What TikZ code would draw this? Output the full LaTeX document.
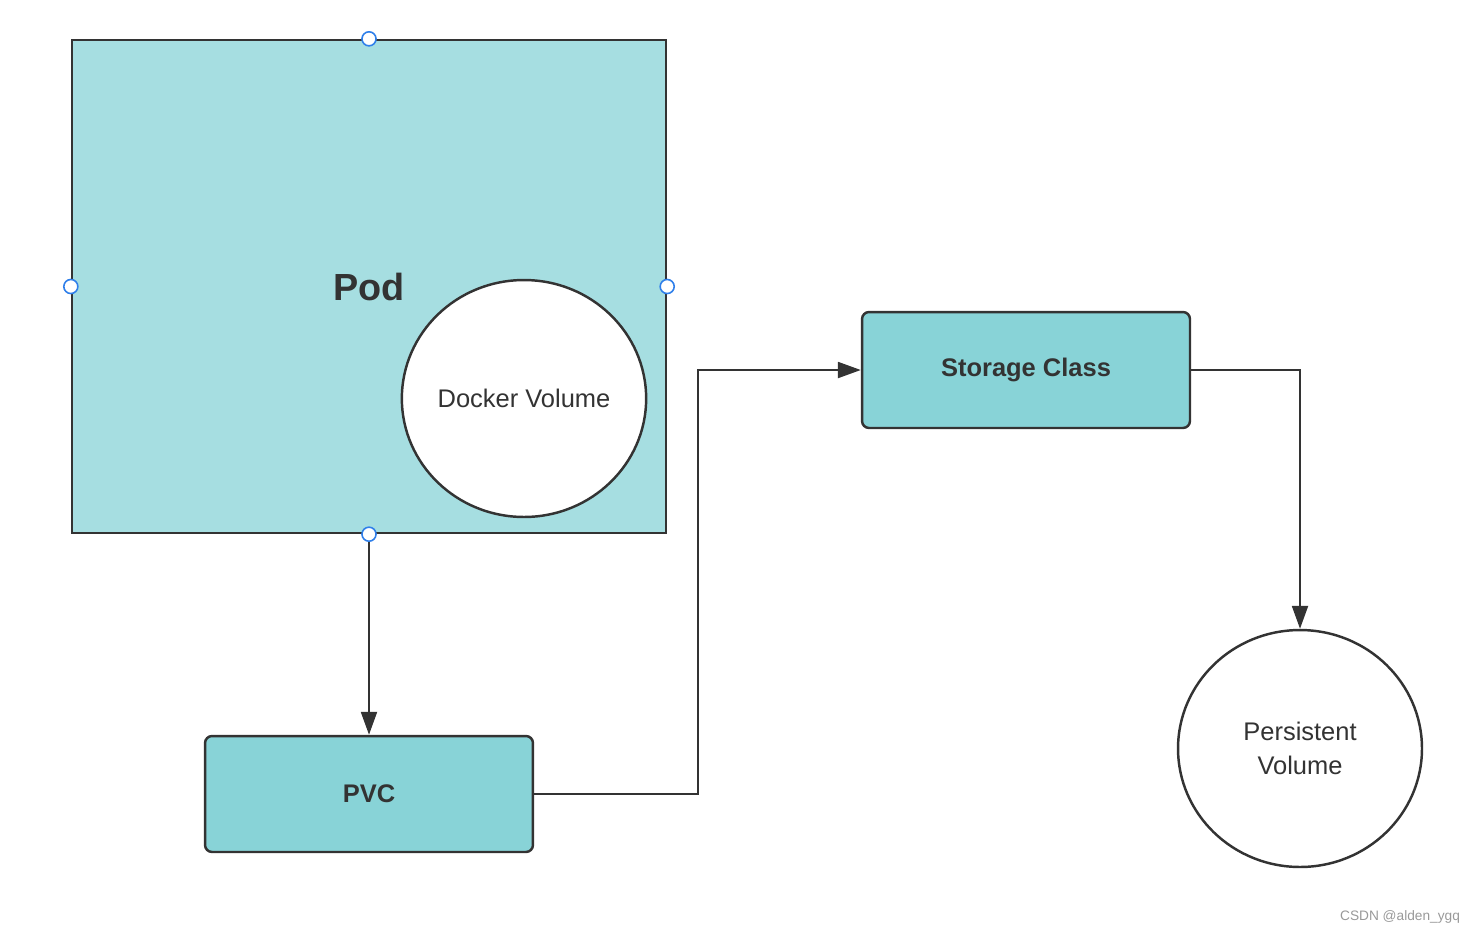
\documentclass[tikz,border=0pt]{standalone}
\usepackage{fontspec}
\setmainfont{Liberation Sans}
\usetikzlibrary{arrows.meta,shapes.geometric}
\definecolor{podfill}{HTML}{A6DEE1}
\definecolor{boxfill}{HTML}{88D3D7}
\definecolor{ink}{HTML}{333333}
\definecolor{handle}{HTML}{2F7FEA}
\tikzset{
  podbox/.style={draw=ink,line width=1.4pt,fill=podfill,minimum width=11.88cm,minimum height=9.86cm,inner sep=0pt},
  stagebox/.style={draw=ink,line width=1.4pt,fill=boxfill,rounded corners=4pt,minimum width=6.56cm,minimum height=2.32cm,font=\bfseries\fontsize{14.5}{17}\selectfont,text=ink},
  vol/.style={ellipse,draw=ink,line width=1.4pt,fill=white,inner sep=0pt,minimum width=4.88cm,minimum height=4.74cm,align=center,font=\fontsize{14.5}{19}\selectfont,text=ink},
  arr/.style={draw=ink,line width=1.4pt,-{Triangle[length=13pt,width=9pt]}},
  dot/.style={circle,draw=handle,line width=0.9pt,fill=white,minimum size=8pt,inner sep=0pt}
}
\begin{document}
\begin{tikzpicture}[x=0.02cm,y=-0.02cm]
    \useasboundingbox (0,0) rectangle (1476,934);

    \node[podbox] (pod) at (369,286.5) {};
    \node[font=\bfseries\fontsize{21.5}{24}\selectfont,text=ink] (podlabel) at (369,287) {Pod};
    \node[vol] (docker) at (524,398.5) {Docker Volume};

    \node[stagebox] (pvc) at (369,794) {PVC};
    \node[stagebox] (sc) at (1026,370) {Storage Class};
    \node[vol] (pv) at (1300,748.5) {Persistent\\Volume};

    \coordinate (bend) at (698,794);

    \draw[arr] (pod.south) -- (pvc.north);
    \draw[arr] (pvc.east) -- (bend) |- (sc.west);
    \draw[arr] (sc.east) -| (pv.north);

    \node[dot] (htop) at (pod.north) {};
    \node[dot] (hleft) at (pod.west) {};
    \node[dot] (hright) at (pod.east) {};
    \node[dot] (hbottom) at (pod.south) {};

    \node[text=gray!80,font=\fontsize{7.8}{9}\selectfont] (mark) at (1400,917) {CSDN @alden\_ygq};
\end{tikzpicture}
\end{document}
